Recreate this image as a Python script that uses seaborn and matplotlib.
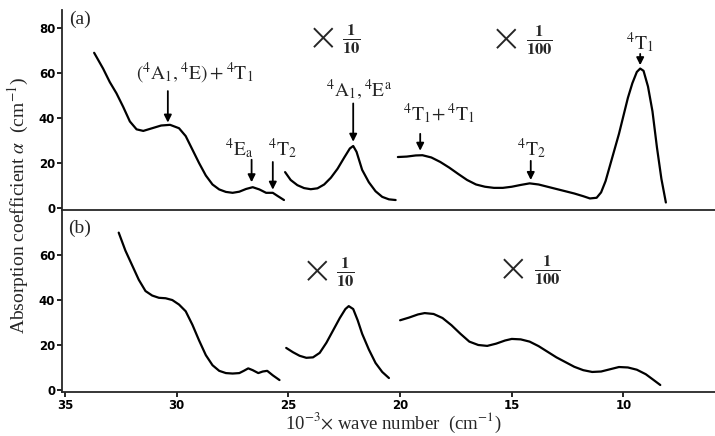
import numpy as np
import pandas as pd
import matplotlib
matplotlib.use("Agg")
import matplotlib.pyplot as plt
import seaborn as sns

# ---------------- data ----------------
# panel (a)
a1_x = [33.7, 33.3, 33.0, 32.7, 32.4, 32.1, 31.8, 31.5, 31.1, 30.7, 30.3, 29.9, 29.6, 29.3,
        29.0, 28.7, 28.4, 28.1, 27.8, 27.5, 27.2, 26.9, 26.6, 26.3, 26.0, 25.7, 25.5, 25.2]
a1_y = [69, 62, 56, 51, 45, 38.5, 35, 34.3, 35.5, 36.7, 37, 35.5, 32, 26,
        20, 14.5, 10.5, 8.3, 7.2, 6.8, 7.3, 8.5, 9.3, 8.3, 6.8, 6.8, 5.5, 3.6]
a2_x = [25.15, 24.9, 24.6, 24.3, 24.0, 23.7, 23.4, 23.1, 22.8, 22.5, 22.25, 22.1, 21.95,
        21.7, 21.4, 21.1, 20.8, 20.5, 20.2]
a2_y = [16, 12.5, 10.2, 8.9, 8.4, 8.8, 10.5, 13.5, 17.5, 22.5, 26.5, 27.6, 25,
        17, 11.5, 7.5, 5, 3.9, 3.6]
a3_x = [20.1, 19.7, 19.3, 19.0, 18.6, 18.2, 17.8, 17.4, 17.0, 16.6, 16.2, 15.8, 15.4, 15.0,
        14.6, 14.2, 13.8, 13.4, 13.0, 12.6, 12.2, 11.8, 11.5, 11.2, 11.0, 10.8, 10.6, 10.4,
        10.2, 10.0, 9.8, 9.6, 9.4, 9.25, 9.1, 8.9, 8.7, 8.5, 8.3, 8.1]
a3_y = [22.7, 22.9, 23.4, 23.5, 22.5, 20.5, 18, 15.2, 12.5, 10.5, 9.5, 9, 9, 9.5,
        10.3, 11, 10.5, 9.5, 8.5, 7.5, 6.5, 5.3, 4.3, 4.6, 7, 12, 19, 26,
        33, 41, 49, 55.5, 60.5, 62, 61, 54, 43, 27, 13, 2.5]
# panel (b)
b1_x = [32.6, 32.3, 32.0, 31.7, 31.4, 31.1, 30.8, 30.5, 30.2, 29.9, 29.6, 29.3, 29.0, 28.7,
        28.4, 28.1, 27.8, 27.5, 27.2, 27.0, 26.8, 26.6, 26.35, 26.15, 25.95, 25.7, 25.4]
b1_y = [70, 62, 55.5, 49, 44, 42, 41, 40.8, 40, 38, 35, 29, 22, 15.5,
        11, 8.5, 7.5, 7.3, 7.5, 8.5, 9.6, 8.8, 7.5, 8.2, 8.5, 6.5, 4.4]
b2_x = [25.1, 24.8, 24.5, 24.2, 23.9, 23.6, 23.3, 23.0, 22.7, 22.45, 22.3, 22.1, 21.9,
        21.7, 21.4, 21.1, 20.8, 20.5]
b2_y = [18.7, 16.8, 15.2, 14.3, 14.5, 16.5, 21, 26.5, 32, 36, 37.3, 36, 31,
        25, 18, 12, 8, 5.3]
b3_x = [20.0, 19.6, 19.2, 18.9, 18.5, 18.1, 17.7, 17.3, 16.9, 16.5, 16.1, 15.7, 15.3, 15.0,
        14.6, 14.2, 13.8, 13.4, 13.0, 12.6, 12.2, 11.8, 11.4, 11.0, 10.6, 10.2, 9.8, 9.4,
        9.0, 8.7, 8.35]
b3_y = [31, 32.2, 33.6, 34.2, 33.8, 32, 28.8, 25, 21.5, 20, 19.6, 20.6, 22, 22.7,
        22.5, 21.5, 19.5, 17, 14.5, 12.4, 10.3, 8.8, 8, 8.2, 9.2, 10.2, 10, 9,
        7, 4.8, 2.2]

x_ticks = [35, 30, 25, 20, 15, 10]
ya_ticks = [0, 20, 40, 60, 80]
yb_ticks = [0, 20, 40, 60]

# annotation labels: (text, text x, text y, arrow x, arrow tail y, arrow head y)
a_labels = [
    (r'$(^4\mathrm{A}_1,{}^4\mathrm{E})+{}^4\mathrm{T}_1$', 29.2, 60, 30.4, 52, 38),
    (r'$^4\mathrm{E}_\mathrm{a}$', 27.2, 26.5, 26.65, 21.5, 11.5),
    (r'$^4\mathrm{T}_2$', 25.25, 26.5, 25.7, 20.5, 8.2),
    (r'$^4\mathrm{A}_1,{}^4\mathrm{E}^\mathrm{a}$', 21.85, 52.4, 22.1, 46.5, 29.5),
    (r'$^4\mathrm{T}_1\!+{}^4\mathrm{T}_1$', 18.25, 42, 19.1, 33, 25.5),
    (r'$^4\mathrm{T}_2$', 14.1, 26.5, 14.15, 21, 12.5),
    (r'$^4\mathrm{T}_1$', 9.25, 73.5, 9.25, 68.5, 63.5),
]
# scale factors: (fraction, x of the cross, x of the fraction, y)
a_scales = [(r'$\mathbf{\frac{1}{10}}$', 23.45, 22.2, 75.2),
            (r'$\mathbf{\frac{1}{100}}$', 15.25, 13.75, 74.5)]
b_scales = [(r'$\mathbf{\frac{1}{10}}$', 23.7, 22.45, 52.4),
            (r'$\mathbf{\frac{1}{100}}$', 14.95, 13.4, 53.5)]

# ---------------- style ----------------
sns.set_style("ticks")
plt.rcParams['font.family'] = ['Liberation Serif', 'DejaVu Serif']
plt.rcParams['mathtext.fontset'] = 'stix'

fig = plt.figure(figsize=(7.15, 4.36), dpi=100)
ax_a = fig.add_axes([0.087, 0.518, 0.913, 0.459])
ax_b = fig.add_axes([0.087, 0.101, 0.913, 0.417], sharex=ax_a)

def draw(ax, xs, ys):
    df = pd.DataFrame({'x': xs, 'y': ys})
    sns.lineplot(data=df, x='x', y='y', ax=ax, color='black', lw=1.6, sort=False,
                 estimator=None)

for xs, ys in [(a1_x, a1_y), (a2_x, a2_y), (a3_x, a3_y)]:
    draw(ax_a, xs, ys)
for xs, ys in [(b1_x, b1_y), (b2_x, b2_y), (b3_x, b3_y)]:
    draw(ax_b, xs, ys)

ax_a.set_xlim(35.13, 5.9)
ax_a.set_ylim(-0.9, 88)
ax_b.set_ylim(-0.9, 80)
ax_b.set_xticks(x_ticks)

for ax, yt in [(ax_a, ya_ticks), (ax_b, yb_ticks)]:
    ax.set_yticks(yt)
    ax.set_xlabel('')
    ax.set_ylabel('')
    for s in ['top', 'right']:
        ax.spines[s].set_visible(False)
    ax.spines['left'].set_linewidth(1.3)
    ax.spines['bottom'].set_linewidth(1.3)
    ax.tick_params(axis='both', direction='out', length=3.5, width=1.2, pad=1.5,
                   labelsize=8.5, colors='black')
    for lab in ax.get_yticklabels() + ax.get_xticklabels():
        lab.set_family('DejaVu Sans')
        lab.set_fontweight('bold')
    ax.patch.set_alpha(0)

ax_a.tick_params(axis='x', bottom=False, labelbottom=False)

ax_a.text(34.35, 84, '(a)', fontsize=14, ha='center', va='center')
ax_b.text(34.35, 72, '(b)', fontsize=14, ha='center', va='center')

for txt, tx, ty, axx, y0, y1 in a_labels:
    ax_a.text(tx, ty, txt, fontsize=14, ha='center', va='center')
    ax_a.annotate('', xy=(axx, y1), xytext=(axx, y0),
                  arrowprops=dict(arrowstyle='-|>', color='black', lw=1.3,
                                  mutation_scale=11, shrinkA=0, shrinkB=0))

for ax, items in [(ax_a, a_scales), (ax_b, b_scales)]:
    for frac, cx, fx, ty in items:
        ax.text(cx, ty, '\u00d7', fontsize=28, ha='center', va='center',
                family='DejaVu Sans', fontweight='light')
        ax.text(fx, ty, frac, fontsize=17, ha='center', va='center')

fig.text(0.026, 0.528, r'Absorption coefficient $\alpha$  (cm$^{-1}$)', rotation=90,
         ha='center', va='center', fontsize=14)
fig.text(0.55, 0.03, r'10$^{-3}$$\times$ wave number  (cm$^{-1}$)', ha='center',
         va='center', fontsize=13.5)

fig.savefig('out.png', dpi=100)
